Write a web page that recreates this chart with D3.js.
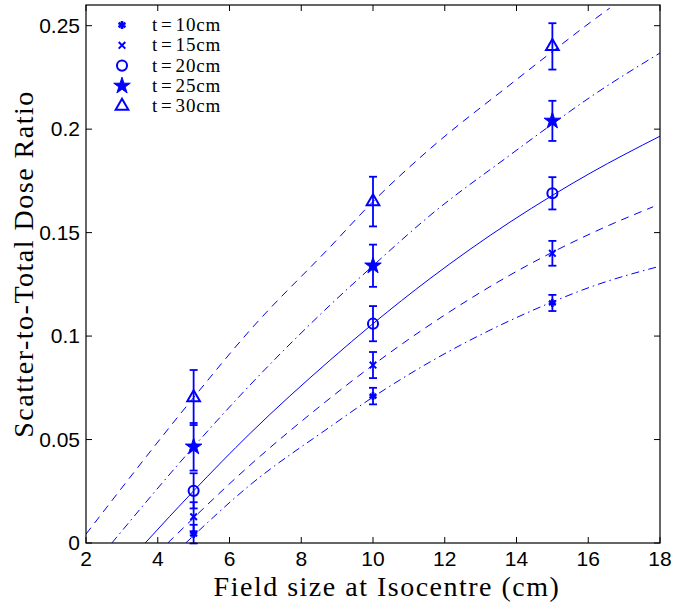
<!DOCTYPE html>
<html>
<head>
<meta charset="utf-8">
<script src="https://cdn.jsdelivr.net/npm/d3@7"></script>
<style>
  body { margin: 0; background: #fff; }
  svg { display: block; }
</style>
</head>
<body>
<div id="chart"></div>
<script>
(function () {

    // measured points (field size in cm)
    var fieldSizes = [5, 10, 15];

    var seriesNames = ["t=10cm", "t=15cm", "t=20cm", "t=25cm", "t=30cm"];

    var ratioT10 = [0.0043, 0.071, 0.116];
    var ratioT15 = [0.0127, 0.086, 0.140];
    var ratioT20 = [0.0252, 0.106, 0.169];
    var ratioT25 = [0.0465, 0.134, 0.204];
    var ratioT30 = [0.0703, 0.165, 0.240];

    var errT10 = [0.0045, 0.0040, 0.0039];
    var errT15 = [0.0070, 0.0063, 0.0060];
    var errT20 = [0.0085, 0.0085, 0.0078];
    var errT25 = [0.0115, 0.0102, 0.0097];
    var errT30 = [0.0133, 0.0120, 0.0112];

    // fitted curves as [x, y]
    var fitT10 = [[4.78, 0], [6.57, 0.028], [8.8, 0.0561], [10, 0.0705], [11.59, 0.0875], [13.82, 0.1075], [15, 0.1165], [16.19, 0.1245], [17.94, 0.1335]];
    var fitT15 = [[4.28, 0], [6.57, 0.0376], [8.66, 0.068], [10, 0.086], [11.59, 0.1055], [13.82, 0.1295], [15, 0.1405], [16.19, 0.1505], [17.81, 0.1625]];
    var fitT20 = [[3.65, 0], [5, 0.0252], [6.57, 0.0529], [8.8, 0.0883], [10, 0.106], [11.59, 0.1278], [13.82, 0.1551], [15, 0.168], [16.05, 0.1787], [18, 0.1966]];
    var fitT25 = [[2.72, 0], [5, 0.0465], [6.57, 0.0763], [8.8, 0.1149], [10, 0.134], [11.59, 0.1583], [13.82, 0.1875], [15, 0.2025], [16.05, 0.2154], [18, 0.2368]];
    var fitT30 = [[2, 0.0043], [5, 0.0703], [6.57, 0.1028], [8.8, 0.143], [10, 0.165], [11.59, 0.1905], [13.82, 0.2215], [15, 0.2375], [16.05, 0.2515], [16.6, 0.2585]];

    var xTicks = [2, 4, 6, 8, 10, 12, 14, 16, 18];
    var yTicks = [0, 0.05, 0.1, 0.15, 0.2, 0.25];

    var W = 673, H = 604;
    var left = 86, right = 660, top = 5, bottom = 543;
    var blue = "#0000ff";

    var svg = d3.select("#chart").append("svg")
        .attr("width", W)
        .attr("height", H);

    var x = d3.scaleLinear().domain([2, 18]).range([left, right]);
    var y = d3.scaleLinear().domain([0, 0.26]).range([bottom, top]);

    svg.append("defs").append("clipPath").attr("id", "plotclip")
        .append("rect")
        .attr("x", left).attr("y", top)
        .attr("width", right - left).attr("height", bottom - top);

    // fitted curves
    var fits = [
        {pts: fitT10, dash: "8,4,1.5,4"},
        {pts: fitT15, dash: "8,6"},
        {pts: fitT20, dash: null},
        {pts: fitT25, dash: "8,4,1.5,4"},
        {pts: fitT30, dash: "8,6"}
    ];

    var line = d3.line()
        .x(function (d) { return x(d[0]); })
        .y(function (d) { return y(d[1]); })
        .curve(d3.curveMonotoneX);

    var curves = svg.append("g").attr("clip-path", "url(#plotclip)");
    fits.forEach(function (f) {
        curves.append("path")
            .attr("d", line(f.pts))
            .attr("fill", "none")
            .attr("stroke", blue)
            .attr("stroke-width", 1)
            .attr("stroke-dasharray", f.dash);
    });

    // error bars and markers
    var ratios = [ratioT10, ratioT15, ratioT20, ratioT25, ratioT30];
    var errs = [errT10, errT15, errT20, errT25, errT30];

    var symbols = [
        {type: d3.symbolAsterisk, size: 45, fill: blue, sw: 2.6},
        {type: d3.symbolTimes, size: 30, fill: "none", sw: 2},
        {type: d3.symbolCircle, size: 80, fill: "none", sw: 2},
        {type: d3.symbolStar, size: 85, fill: blue, sw: 1},
        {type: d3.symbolTriangle, size: 70, fill: "none", sw: 2}
    ];

    var bars = svg.append("g");
    ratios.forEach(function (vals, s) {
        fieldSizes.forEach(function (fx, i) {
            var cx = x(fx), lo = y(vals[i] - errs[s][i]), hi = y(vals[i] + errs[s][i]);
            bars.append("line")
                .attr("x1", cx).attr("x2", cx).attr("y1", lo).attr("y2", hi)
                .attr("stroke", blue).attr("stroke-width", 1.8);
            [lo, hi].forEach(function (yy) {
                bars.append("line")
                    .attr("x1", cx - 4).attr("x2", cx + 4).attr("y1", yy).attr("y2", yy)
                    .attr("stroke", blue).attr("stroke-width", 1.8);
            });
        });
    });

    var marks = svg.append("g");
    ratios.forEach(function (vals, s) {
        var sym = symbols[s];
        marks.selectAll("path.s" + s)
            .data(vals).enter().append("path")
            .attr("class", "s" + s)
            .attr("transform", function (d, i) { return "translate(" + x(fieldSizes[i]) + "," + y(d) + ")"; })
            .attr("d", d3.symbol().type(sym.type).size(sym.size))
            .attr("fill", sym.fill)
            .attr("stroke", blue)
            .attr("stroke-width", sym.sw);
    });

    // axes box with inward ticks
    var tickLen = 6;
    var axes = svg.append("g");
    axes.append("rect")
        .attr("x", left).attr("y", top)
        .attr("width", right - left).attr("height", bottom - top)
        .attr("fill", "none").attr("stroke", "#000").attr("stroke-width", 1.2);

    xTicks.forEach(function (t) {
        axes.append("line").attr("x1", x(t)).attr("x2", x(t)).attr("y1", bottom).attr("y2", bottom - tickLen).attr("stroke", "#000");
        axes.append("line").attr("x1", x(t)).attr("x2", x(t)).attr("y1", top).attr("y2", top + tickLen).attr("stroke", "#000");
        axes.append("text")
            .attr("x", x(t)).attr("y", bottom + 23)
            .attr("text-anchor", "middle")
            .style("font-family", "'Liberation Sans', Arial, sans-serif")
            .style("font-size", "21px")
            .text(t);
    });

    yTicks.forEach(function (t) {
        axes.append("line").attr("x1", left).attr("x2", left + tickLen).attr("y1", y(t)).attr("y2", y(t)).attr("stroke", "#000");
        axes.append("line").attr("x1", right).attr("x2", right - tickLen).attr("y1", y(t)).attr("y2", y(t)).attr("stroke", "#000");
        axes.append("text")
            .attr("x", left - 6).attr("y", y(t) + 7)
            .attr("text-anchor", "end")
            .style("font-family", "'Liberation Sans', Arial, sans-serif")
            .style("font-size", "21px")
            .text(d3.format("~g")(t));
    });

    // axis titles
    svg.append("text")
        .attr("x", 387).attr("y", 596)
        .attr("text-anchor", "middle")
        .style("font-family", "'Liberation Serif', serif")
        .style("font-size", "28px")
        .style("letter-spacing", "1.5px")
        .text("Field size at Isocentre (cm)");

    svg.append("text")
        .attr("transform", "translate(33,264) rotate(-90)")
        .attr("text-anchor", "middle")
        .style("font-family", "'Liberation Serif', serif")
        .style("font-size", "28px")
        .style("letter-spacing", "1.5px")
        .text("Scatter-to-Total Dose Ratio");

    // legend
    var legend = svg.append("g");
    seriesNames.forEach(function (name, s) {
        var ly = 25 + s * 20.3;
        var sym = symbols[s];
        legend.append("path")
            .attr("transform", "translate(122," + ly + ")")
            .attr("d", d3.symbol().type(sym.type).size(sym.size))
            .attr("fill", sym.fill)
            .attr("stroke", blue)
            .attr("stroke-width", sym.sw);
        var parts = name.split("=");
        var txt = legend.append("text")
            .attr("x", 152).attr("y", ly + 6)
            .style("font-family", "'Liberation Serif', serif")
            .style("font-size", "19px")
            .style("letter-spacing", "0.8px");
        txt.append("tspan").text(parts[0]);
        txt.append("tspan").attr("dx", 3).text("=");
        txt.append("tspan").attr("dx", 3).text(parts[1]);
    });
})();
</script>
</body>
</html>
